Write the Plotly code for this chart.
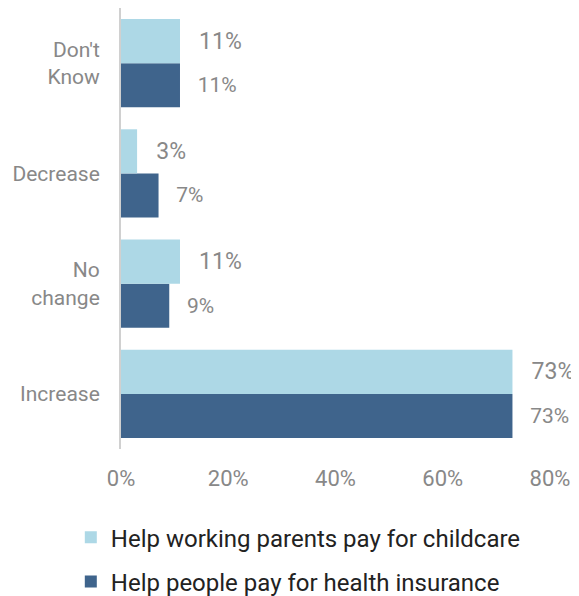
import plotly.graph_objects as go

categories = ["Increase", "No<br>change", "Decrease", "Don't<br>Know"]
childcare = [73, 11, 3, 11]
health = [73, 9, 7, 11]
series_names = ["Help working parents pay for childcare", "Help people pay for health insurance"]
tick_vals = [0, 20, 40, 60, 80]
tick_text = ["0%", "20%", "40%", "60%", "80%"]

LIGHT = "#ADD8E6"
DARK = "#3F648C"
FONT = "Roboto, DejaVu Sans, sans-serif"
PAD = "  \u2009"

fig = go.Figure()
fig.add_trace(go.Bar(
    y=categories, x=health, orientation="h", name=series_names[1],
    marker=dict(color=DARK, line=dict(width=0)),
    text=[PAD + "%d%%" % v for v in health], textposition="outside",
    textfont=dict(size=21, color="#888888", family=FONT),
    cliponaxis=False, legendgroup="b", legendrank=2,
))
fig.add_trace(go.Bar(
    y=categories, x=childcare, orientation="h", name=series_names[0],
    marker=dict(color=LIGHT, line=dict(width=0)),
    text=[PAD + "%d%%" % v for v in childcare], textposition="outside",
    textfont=dict(size=23, color="#888888", family=FONT),
    cliponaxis=False, legendgroup="a", legendrank=1,
))

# page body has an 8px default margin, so the figure is sized to fit inside the window
fig.update_layout(
    width=571, height=588,
    margin=dict(l=113, r=29, t=0, b=147, autoexpand=False),
    paper_bgcolor="white", plot_bgcolor="white",
    barmode="group", bargap=0.2, bargroupgap=0,
    font=dict(family=FONT, color="#888888"),
    legend=dict(
        orientation="v", x=-0.117, xanchor="left", y=-0.150, yanchor="top",
        traceorder="grouped", tracegroupgap=10,
        font=dict(size=24, color="#222222", family=FONT),
        itemwidth=30,
    ),
    xaxis=dict(
        range=[0, 80], tickvals=tick_vals, ticktext=tick_text,
        showgrid=False, zeroline=False, showline=False, automargin=False,
        tickfont=dict(size=22, color="#888888"), ticks="", ticklabelstandoff=14,
    ),
    yaxis=dict(
        showgrid=False, zeroline=False, showline=True, linecolor="#D0D0D0", linewidth=2,
        automargin=False,
        tickfont=dict(size=21, color="#888888"), ticks="", ticklabelstandoff=15,
        range=[-0.5, 3.5],
    ),
)

fig.write_html("out.html")
